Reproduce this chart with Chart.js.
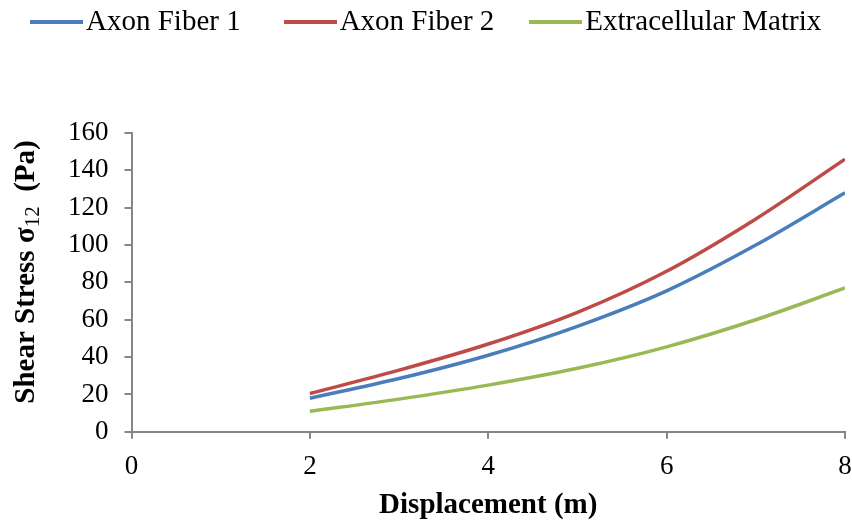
<!DOCTYPE html>
<html>
<head>
<meta charset="utf-8">
<script src="https://cdn.jsdelivr.net/npm/chart.js@4.4.0/dist/chart.umd.min.js"></script>
<style>
  body { margin: 0; background: #fff; }
  #wrap { position: relative; width: 852px; height: 527px; }
  #leyenda { position: absolute; left: 30px; top: 0; height: 40px; line-height: 40px; white-space: nowrap;
             font-family: 'Liberation Serif', 'Times New Roman', serif; font-size: 29px; color: #000; }
  #leyenda .item { display: inline-block; margin-right: 43px; }
  #leyenda .item:nth-child(2) { margin-right: 35px; }
  #leyenda .linea { display: inline-block; width: 53px; height: 4px; vertical-align: middle; margin-right: 3px; position: relative; top: -1px; }
</style>
</head>
<body>
<div id="wrap">
  <canvas id="myChart"></canvas>
  <div id="leyenda"></div>
</div>
<script>
// displacement (m)
var desplaz = [2, 3, 4, 5, 6, 7, 8];
// shear stress (Pa)
var fibra1 = [18, 28.5, 41, 56.5, 75.5, 100, 128];
var fibra2 = [20.5, 33, 47, 64, 86, 114, 146];
var matriz = [11, 17.5, 25, 34, 45.5, 60, 77];
var yTicks = [0, 20, 40, 60, 80, 100, 120, 140, 160];
var xTicks = [0, 2, 4, 6, 8];

function puntos(vals) {
    return desplaz.map(function (x, i) { return {x: x, y: vals[i]}; });
}

var serif = "'Liberation Serif', 'Times New Roman', serif";
var gris = "#868686";

// y title with a real subscript
var tituloY = {
    id: "tituloY",
    afterDraw: function (chart) {
        var c = chart.ctx;
        var partes = [
            {t: "Shear Stress σ", f: "bold 29px " + serif, dy: 0},
            {t: "12", f: "21px " + serif, dy: 6},
            {t: "  (Pa)", f: "bold 29px " + serif, dy: 0}
        ];
        c.save();
        var total = 0;
        partes.forEach(function (p) { c.font = p.f; p.w = c.measureText(p.t).width; total += p.w; });
        c.translate(27, 272);
        c.rotate(-Math.PI / 2);
        c.fillStyle = "#000";
        c.textBaseline = "middle";
        var x = -total / 2;
        partes.forEach(function (p) {
            c.font = p.f;
            c.fillText(p.t, x, p.dy);
            x += p.w;
        });
        c.restore();
    }
};

var ctx = document.getElementById("myChart").getContext("2d");
var myChart = new Chart(ctx, {
    type: "line",
    data: {
        datasets: [{
            label: "Axon Fiber 1",
            data: puntos(fibra1),
            borderColor: "#4A7EBB",
            backgroundColor: "#4A7EBB"
        }, {
            label: "Axon Fiber 2",
            data: puntos(fibra2),
            borderColor: "#BE4B48",
            backgroundColor: "#BE4B48"
        }, {
            label: "Extracellular Matrix",
            data: puntos(matriz),
            borderColor: "#98B954",
            backgroundColor: "#98B954"
        }]
    },
    options: {
        responsive: true,
        maintainAspectRatio: false,
        animation: false,
        layout: { padding: { left: 52, right: 0, top: 133, bottom: 0 } },
        elements: {
            line: { borderWidth: 3.5, tension: 0.4, cubicInterpolationMode: "monotone" },
            point: { radius: 0 }
        },
        plugins: {
            tooltip: { enabled: false },
            legend: { display: false }
        },
        scales: {
            x: {
                type: "linear",
                min: 0,
                max: 8,
                afterBuildTicks: function (axis) {
                    axis.ticks = xTicks.map(function (v) { return {value: v}; });
                },
                afterFit: function (axis) {
                    axis.paddingRight = 7;
                },
                border: { color: gris, width: 2 },
                grid: { drawOnChartArea: false, drawTicks: true, tickLength: 7, color: gris, lineWidth: 2 },
                ticks: { color: "#000", padding: 12, autoSkip: false, maxRotation: 0, font: { family: serif, size: 27 } },
                title: {
                    display: true,
                    text: "Displacement (m)",
                    color: "#000",
                    padding: { top: -7, bottom: 4 },
                    font: { family: serif, size: 29, weight: "bold" }
                }
            },
            y: {
                min: 0,
                max: 160,
                afterBuildTicks: function (axis) {
                    axis.ticks = yTicks.map(function (v) { return {value: v}; });
                },
                border: { color: gris, width: 2 },
                grid: { drawOnChartArea: false, drawTicks: true, tickLength: 7, color: gris, lineWidth: 2 },
                ticks: { color: "#000", padding: 16, autoSkip: false, font: { family: serif, size: 27 } }
            }
        }
    },
    plugins: [tituloY]
});

// legend row on top, built from the datasets
var leyenda = document.getElementById("leyenda");
myChart.data.datasets.forEach(function (ds) {
    var item = document.createElement("span");
    item.className = "item";
    var linea = document.createElement("span");
    linea.className = "linea";
    linea.style.background = ds.borderColor;
    item.appendChild(linea);
    item.appendChild(document.createTextNode(ds.label));
    leyenda.appendChild(item);
});
</script>
</body>
</html>
